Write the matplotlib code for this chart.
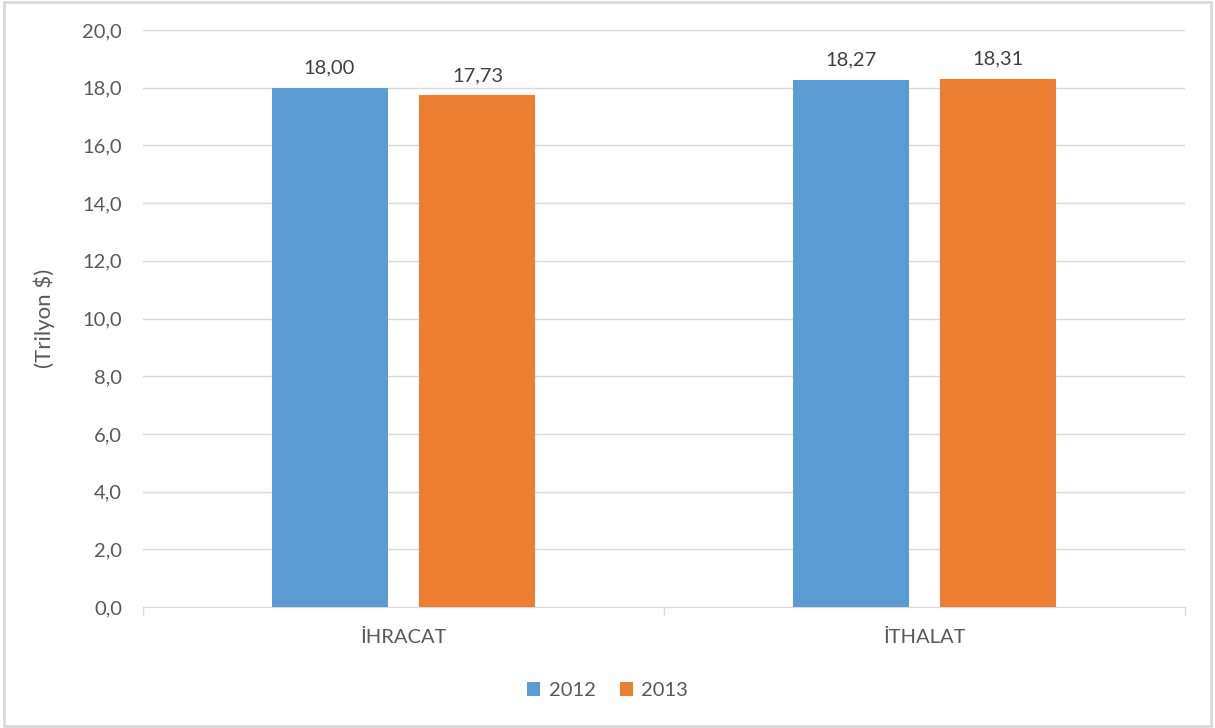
import numpy as np
import matplotlib.pyplot as plt
from matplotlib.patches import Rectangle

categories = ['İHRACAT', 'İTHALAT']
years = ['2012', '2013']
values_2012 = [18.00, 18.27]
values_2013 = [17.73, 18.31]

plt.rcParams['font.family'] = ['Lato', 'DejaVu Sans']
txt = '#595959'

fig = plt.figure(figsize=(12.15, 7.28), dpi=100)
ax = fig.add_axes([143/1215, 1 - 607/728, (1185-143)/1215, (607-30)/728])

x = np.arange(len(categories))
w = 0.2227
off = 0.142
b1 = ax.bar(x - off, values_2012, w, color='#5B9BD5', label=years[0], zorder=3)
b2 = ax.bar(x + off, values_2013, w, color='#ED7D31', label=years[1], zorder=3)

for bars, vals in [(b1, values_2012), (b2, values_2013)]:
    for r, v in zip(bars, vals):
        ax.annotate(f'{v:.2f}'.replace('.', ','), (r.get_x() + r.get_width()/2, v),
                    xytext=(0, 8), textcoords='offset points', ha='center', va='bottom',
                    fontsize=14.5, color='#404040')

ax.set_xlim(-0.5, 1.5)
ax.set_ylim(0, 20)
ax.set_yticks(np.arange(0, 20.1, 2))
ax.set_yticklabels([f'{t:.1f}'.replace('.', ',') for t in np.arange(0, 20.1, 2)])
ax.yaxis.grid(True, color='#D9D9D9', linewidth=1, zorder=0)
ax.tick_params(axis='y', length=0, labelsize=14.5, labelcolor=txt, pad=15)

ax.set_xticks(x)
ax.set_xticklabels(categories)
ax.tick_params(axis='x', length=0, labelsize=14.5, labelcolor=txt, pad=16)
# category separator ticks
ax.set_xticks([-0.5, 0.5, 1.5], minor=True)
ax.tick_params(axis='x', which='minor', length=6, color='#D9D9D9', width=1)

for s in ['top', 'right', 'left']:
    ax.spines[s].set_visible(False)
ax.spines['bottom'].set_color('#D9D9D9')

ax.set_ylabel('(Trilyon $)', fontsize=16, color=txt, labelpad=20)

fig.legend(loc='lower center', bbox_to_anchor=(0.5, 0.015), ncol=2, frameon=False,
           fontsize=14.5, labelcolor=txt, handlelength=0.65, handleheight=0.65,
           handletextpad=0.4, columnspacing=1.2)

fig.patches.append(Rectangle((0.003, 0.003), 0.994, 0.994, transform=fig.transFigure,
                             fill=False, edgecolor='#D9D9D9', linewidth=2))

fig.savefig('out.png', dpi=100)
